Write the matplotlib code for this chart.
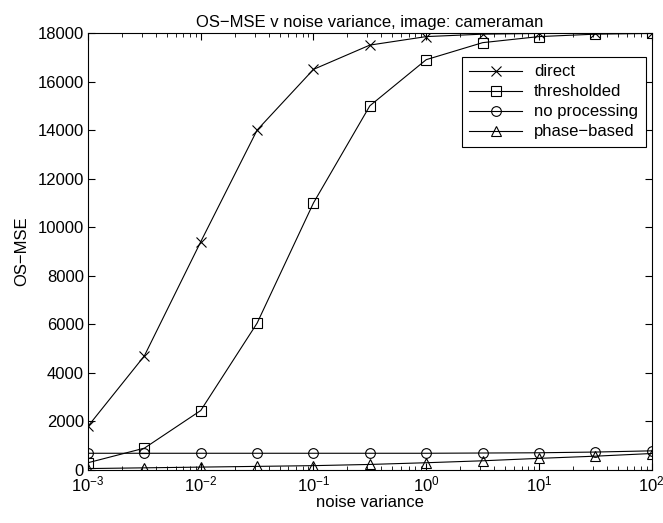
import numpy as np
import matplotlib
matplotlib.use("Agg")
import matplotlib.pyplot as plt

plt.rcParams['font.family'] = ['Liberation Sans', 'DejaVu Sans']
plt.rcParams['mathtext.fontset'] = 'custom'
plt.rcParams['mathtext.rm'] = 'Liberation Sans'
plt.rcParams['mathtext.it'] = 'Liberation Sans'

# noise variance (log spaced, half decades)
noise_var = [1e-3, 10**-2.5, 1e-2, 10**-1.5, 1e-1, 10**-0.5, 1e0, 10**0.5, 1e1, 10**1.5, 1e2]

direct = [1800, 4700, 9400, 14000, 16500, 17500, 17850, 17950, 17980, 18000, 18000]
thresholded = [300, 900, 2450, 6050, 11000, 15000, 16900, 17600, 17850, 17950, 17980]
no_processing = [690, 690, 690, 690, 690, 690, 690, 700, 710, 740, 790]
phase_based = [60, 90, 120, 150, 180, 230, 300, 380, 480, 570, 680]

fig = plt.figure(figsize=(6.63, 5.23), dpi=100)
ax = fig.add_axes([0.1327, 0.1013, 0.8503, 0.8357])

ms = 7
ax.plot(noise_var, direct, '-x', color='k', lw=0.8, ms=ms, mew=0.8, label='direct')
ax.plot(noise_var, thresholded, '-s', color='k', lw=0.8, ms=ms - 0.5, mew=0.8, mfc='none', label='thresholded')
ax.plot(noise_var, no_processing, '-o', color='k', lw=0.8, ms=ms, mew=0.8, mfc='none', label='no processing')
ax.plot(noise_var, phase_based, '-^', color='k', lw=0.8, ms=ms, mew=0.8, mfc='none', label='phase\u2212based')

ax.set_xscale('log')
ax.set_xlim(1e-3, 1e2)
ax.set_ylim(0, 18000)
ax.set_yticks(np.arange(0, 18001, 2000))
ax.set_xticks([1e-3, 1e-2, 1e-1, 1e0, 1e1, 1e2])
ax.set_xticklabels([r'$10^{-3}$', r'$10^{-2}$', r'$10^{-1}$', r'$10^{0}$', r'$10^{1}$', r'$10^{2}$'])
ax.tick_params(which='both', direction='in', top=True, right=True, labelsize=12)
ax.tick_params(which='major', length=5)
ax.tick_params(which='minor', length=3)
ax.tick_params(axis='y', pad=3)
for s in ax.spines.values():
    s.set_linewidth(0.8)

ax.set_xlabel('noise variance', fontsize=12, labelpad=0)
ax.set_ylabel('OS\u2212MSE', fontsize=12, labelpad=6)
ax.set_title('OS\u2212MSE v noise variance, image: cameraman', fontsize=12, pad=4)

leg = ax.legend(loc='upper right', bbox_to_anchor=(0.989, 0.945), borderaxespad=0,
                fontsize=12, fancybox=False, framealpha=1, edgecolor='k',
                handlelength=3.2, handletextpad=0.7, borderpad=0.45, labelspacing=0.3)
leg.get_frame().set_linewidth(0.8)

fig.savefig('out.png', dpi=100)
